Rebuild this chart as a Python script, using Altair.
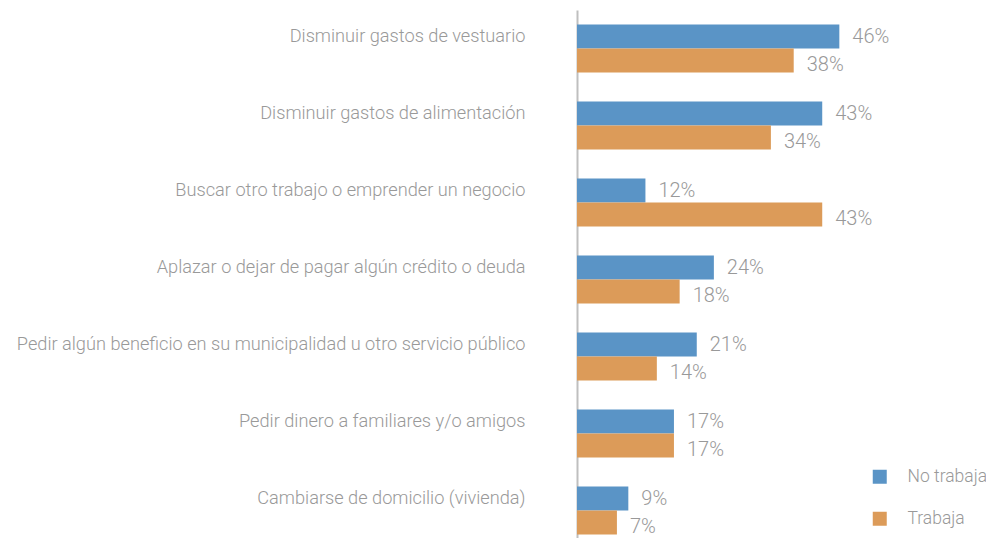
import altair as alt
import pandas as pd

categories = [
    "Disminuir gastos de vestuario",
    "Disminuir gastos de alimentación",
    "Buscar otro trabajo o emprender un negocio",
    "Aplazar o dejar de pagar algún crédito o deuda",
    "Pedir algún beneficio en su municipalidad u otro servicio público",
    "Pedir dinero a familiares y/o amigos",
    "Cambiarse de domicilio (vivienda)",
]
series = ["No trabaja", "Trabaja"]
no_trabaja = [46, 43, 12, 24, 21, 17, 9]
trabaja = [38, 34, 43, 18, 14, 17, 7]

rows = []
for c, a, b in zip(categories, no_trabaja, trabaja):
    rows.append({"cat": c, "serie": series[0], "val": a, "lab": f"{a}%"})
    rows.append({"cat": c, "serie": series[1], "val": b, "lab": f"{b}%"})
df = pd.DataFrame(rows)

FONT = "Roboto"
WEIGHT = 300
GREY = "#999999"

y_enc = alt.Y("cat:N", sort=categories, title=None,
              scale=alt.Scale(paddingInner=0.377, paddingOuter=0.1885),
              axis=alt.Axis(ticks=False, labelPadding=52, labelLimit=600,
                            labelFontSize=18.2, labelFont=FONT, labelFontWeight=WEIGHT,
                            labelColor=GREY,
                            labelOffset=-12, domainColor="#bfbfbf", domainWidth=2,
                            grid=False))
yoff = alt.YOffset("serie:N", sort=series,
                   scale=alt.Scale(paddingInner=0, paddingOuter=0))
x_enc = alt.X("val:Q", scale=alt.Scale(domain=[0, 50.5]), axis=None)

bars = alt.Chart(df).mark_bar().encode(
    y=y_enc, yOffset=yoff, x=x_enc,
    color=alt.Color("serie:N", sort=series,
                    scale=alt.Scale(domain=series, range=["#5a94c6", "#dc9b59"]),
                    legend=alt.Legend(title=None, orient="none", legendX=294, legendY=458,
                                      symbolType="square", symbolSize=196,
                                      symbolStrokeWidth=0, labelFont=FONT,
                                      labelFontWeight=WEIGHT,
                                      labelFontSize=17.5, labelColor=GREY,
                                      labelOffset=19, rowPadding=23, labelLimit=200)),
)
text_a = alt.Chart(df).transform_filter(alt.datum.serie == series[0]).mark_text(
    align="left", dx=13, font=FONT, fontSize=20, fontWeight=WEIGHT,
    color=GREY, baseline="middle").encode(
    y=alt.Y("cat:N", sort=categories), yOffset=yoff, x=x_enc, text="lab:N")
text_b = alt.Chart(df).transform_filter(alt.datum.serie == series[1]).mark_text(
    align="left", dx=13, dy=5, font=FONT, fontSize=20, fontWeight=WEIGHT,
    color=GREY, baseline="middle").encode(
    y=alt.Y("cat:N", sort=categories), yOffset=yoff, x=x_enc, text="lab:N")

chart = alt.layer(bars, text_a, text_b).properties(
    width=288, height=539,
    padding={"left": 569, "top": 2, "right": 121, "bottom": 0},
    autosize=alt.AutoSizeParams(type="none"),
).configure_view(stroke=None)

chart.save("out.html", embed_options={"renderer": "svg", "actions": False})
